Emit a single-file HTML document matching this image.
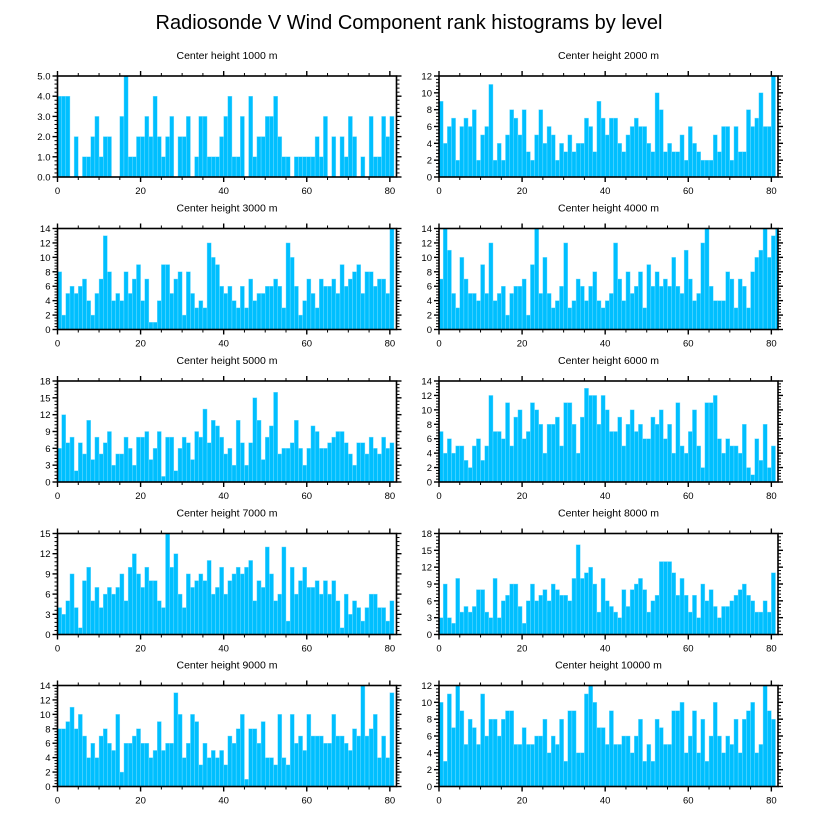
<!DOCTYPE html>
<html><head><meta charset="utf-8"><style>
body{margin:0;background:#fff;}
svg{display:block;font-family:"Liberation Sans",sans-serif;}
</style></head><body>
<svg id="chart" width="818" height="824" viewBox="0 0 818 824">
<text x="409" y="29" text-anchor="middle" font-size="20">Radiosonde V Wind Component rank histograms by level</text>
</svg>
<script>
const levels = ["1000","2000","3000","4000","5000","6000","7000","8000","9000","10000"];
const yMaxes = [5,12,14,14,18,14,15,18,14,12];
const yStep = [1,2,2,2,3,2,3,3,2,2];
const h1000 = [4,4,4,0,2,0,1,1,2,3,1,2,2,0,0,3,5,1,1,2,2,3,2,4,2,1,2,3,0,2,2,3,0,1,3,3,1,1,1,2,3,4,1,1,3,0,4,1,2,2,3,3,4,2,1,1,0,1,1,1,1,1,2,1,3,0,2,0,2,1,3,2,0,1,0,3,1,1,3,2,3];
const h2000 = [9,4,6,7,2,6,7,6,8,2,5,6,11,2,4,2,5,8,7,5,8,3,2,5,8,4,6,5,2,4,3,5,3,4,4,7,6,3,9,7,5,7,7,4,3,5,6,7,6,6,4,3,10,8,3,4,3,3,5,2,6,4,3,2,2,2,5,3,6,6,2,6,3,3,8,6,7,10,6,6,12];
const h3000 = [8,2,5,6,5,6,7,4,2,5,7,13,8,4,5,4,8,5,7,9,4,7,1,1,4,9,9,5,7,8,2,8,5,3,4,3,12,10,9,6,5,6,4,3,6,3,7,4,5,5,6,6,7,6,3,12,10,6,2,4,7,5,3,7,6,6,7,5,9,6,7,8,9,5,8,8,6,7,7,5,14];
const h4000 = [7,14,11,5,3,10,7,5,5,4,9,5,12,4,5,6,2,5,6,6,7,2,9,14,5,10,5,3,4,6,12,3,4,7,6,4,6,8,4,3,4,5,12,7,4,8,5,6,8,3,9,6,8,6,7,6,10,6,5,11,7,4,5,12,14,6,4,4,4,8,7,3,7,6,3,8,10,11,14,10,13,14];
const h5000 = [6,12,7,8,2,7,5,11,4,8,5,7,9,3,5,5,8,6,3,8,8,9,4,6,9,1,8,8,2,6,8,7,4,9,8,13,7,11,10,8,5,6,3,11,7,3,7,15,11,4,8,10,16,5,6,6,7,11,6,3,6,10,9,6,6,7,8,9,9,7,5,3,7,7,5,8,6,5,8,6,7];
const h6000 = [7,4,6,4,5,5,3,2,5,6,3,5,12,7,7,6,11,5,9,10,6,7,11,10,8,4,8,8,9,5,11,11,8,4,9,13,12,12,8,12,10,7,7,9,5,8,10,7,8,6,6,9,8,10,6,8,4,11,5,4,7,10,5,2,11,11,12,6,4,6,5,5,4,8,2,1,6,3,8,2,5];
const h7000 = [4,3,5,9,4,1,8,10,5,7,4,6,7,6,7,9,5,10,12,9,7,10,8,8,5,4,15,10,12,6,4,9,7,8,9,8,11,6,7,10,6,8,9,10,9,10,11,5,8,7,13,9,5,6,13,2,10,6,8,10,7,7,8,6,8,6,8,5,1,6,3,5,4,2,4,6,6,4,4,2,5];
const h8000 = [3,9,3,2,10,4,5,4,5,8,8,4,3,10,3,6,7,9,9,5,2,6,9,6,7,8,6,9,8,7,7,6,10,16,10,11,12,9,4,10,6,5,4,3,8,5,8,9,10,8,4,6,7,13,13,13,11,7,10,7,4,7,3,9,6,8,5,3,5,5,6,7,8,9,7,6,4,4,6,4,11];
const h9000 = [8,8,9,11,8,10,7,4,6,4,7,8,6,5,10,2,6,6,7,8,6,6,4,5,9,5,6,6,13,10,4,6,10,9,3,6,4,5,4,5,3,7,6,8,10,1,8,8,6,9,4,4,3,10,4,3,10,6,7,5,10,7,7,7,6,6,10,7,7,6,5,8,7,14,7,8,10,4,7,4,13];
const h10000 = [10,3,11,7,12,9,5,8,7,5,11,6,8,8,6,8,9,9,5,5,7,5,5,6,6,8,4,6,5,8,3,9,9,4,4,11,12,10,7,7,5,9,5,5,6,6,4,6,8,3,5,3,8,7,5,5,9,9,10,4,6,9,4,8,3,6,10,6,4,6,5,8,4,8,9,10,4,5,12,9,8];
const series = [h1000,h2000,h3000,h4000,h5000,h6000,h7000,h8000,h9000,h10000];
const xTicks = [0,20,40,60,80];
const xMax = 81.6;

const NS="http://www.w3.org/2000/svg";
const svg=document.getElementById('chart');
function mk(tag,attrs,parent){const e=document.createElementNS(NS,tag);for(const k in attrs)e.setAttribute(k,attrs[k]);(parent||svg).appendChild(e);return e;}
const colX=[57.5,439];const W=339;const rowY=[76,228.5,381,533.5,685.5];const H=101;

series.forEach((vals,p)=>{
  const px=colX[p%2], py=rowY[Math.floor(p/2)];
  const g=mk('g',{});
  
  
  const xs=v=>px+v/xMax*W;
  const ys=v=>py+H-v/yMaxes[p]*H;
  const t=mk('text',{x:px+W/2,y:py-17,'text-anchor':'middle','font-size':'10.5'},g);
  
  
  t.textContent='Center height '+levels[p]+' m';
  const cid='clip'+p;
  const cp=mk('clipPath',{id:cid},g);mk('rect',{x:px,y:py,width:W,height:H},cp);
  const bg=mk('g',{'clip-path':'url(#'+cid+')'},g);
  vals.forEach((v,i)=>{
    if(v<=0)return;
    const r=mk('rect',{x:xs(i),y:ys(v),width:xs(i+1)-xs(i),height:ys(0)-ys(v),fill:'#00bfff',stroke:'#7fdfff','stroke-width':'0.4'},bg);
    
    
  });
  const fr=mk('rect',{x:px,y:py,width:W,height:H,fill:'none',stroke:'#000','stroke-width':'1.6'},g);
  
  
  // x ticks
  for(let v=0;v<=xMax;v+=5){
    const maj=v%20===0, L=maj?5:3;
    mk('line',{x1:xs(v),x2:xs(v),y1:py+H,y2:py+H+L,stroke:'#000','stroke-width':maj?1.4:1},g);
    mk('line',{x1:xs(v),x2:xs(v),y1:py,y2:py-L,stroke:'#000','stroke-width':maj?1.4:1},g);
  }
  xTicks.forEach(v=>{
    const l=mk('text',{x:xs(v),y:py+H+17,'text-anchor':'middle','font-size':'9.5'},g);
    
    
    l.textContent=v;
  });
  const st=yStep[p], mn=st/5;
  for(let k=0;k<=Math.round(yMaxes[p]/mn);k++){
    const v=k*mn, maj=k%5===0, L=maj?5:3;
    mk('line',{x1:px,x2:px-L,y1:ys(v),y2:ys(v),stroke:'#000','stroke-width':maj?1.4:1},g);
    mk('line',{x1:px+W,x2:px+W+L,y1:ys(v),y2:ys(v),stroke:'#000','stroke-width':maj?1.4:1},g);
  }
  for(let v=0;v<=yMaxes[p]+1e-9;v+=st){
    const l=mk('text',{x:px-7,y:ys(v)+3.5,'text-anchor':'end','font-size':'9.5'},g);
    
    
    l.textContent=p===0?v.toFixed(1):v;
  }
});
</script>
</body></html>
